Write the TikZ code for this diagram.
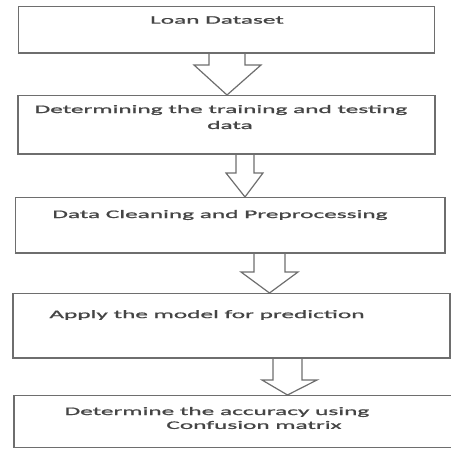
\documentclass[tikz,border=0pt]{standalone}
\usepackage{fontspec}
\newfontfamily\lf[FakeStretch=2.2,FakeBold=1.2]{Carlito}
\definecolor{edge}{HTML}{6E6E6E}
\definecolor{ink}{HTML}{454545}
\tikzset{
  box/.style={draw=edge, line width=1.5pt, fill=white, inner sep=0pt, anchor=north west},
  lbl/.style={text=ink, inner sep=0pt, font=\lf\fontsize{11.5}{15}\selectfont},
  blockarr/.style={draw=edge, line width=1.2pt, fill=white, line join=miter}
}
\newcommand\barrow[7]{% from, to, shaft left, shaft right, head left, head right, neck y
  \path[blockarr] (#1.south -| #3,0) -- (#3,#7) -- (#5,#7)
     -- (#2.north -| {(#3+#4)/2},0) -- (#6,#7) -- (#4,#7) -- (#1.south -| #4,0);
}
\begin{document}
\begin{tikzpicture}[x=1pt,y=-1pt]
\useasboundingbox (0,0) rectangle (451,449);
% boxes
\node[box, minimum width=416pt, minimum height=46pt] (b1) at (17.5,6) {};
\node[box, minimum width=417pt, minimum height=58pt] (b2) at (17,95) {};
\node[box, minimum width=429.5pt, minimum height=55pt] (b3) at (14.5,197) {};
\node[box, minimum width=437pt, minimum height=64pt] (b4) at (12,293) {};
\node[box, minimum width=440pt, minimum height=52pt] (b5) at (13,395) {};
% arrows
\barrow{b1}{b2}{209}{245}{194}{261}{65}
\barrow{b2}{b3}{236}{254}{226}{263}{173}
\barrow{b3}{b4}{254}{285}{241}{298}{272}
\barrow{b4}{b5}{273}{302}{262}{317}{380}
% redraw box edges over arrow tops
\foreach \b in {b1,b2,b3,b4} {\draw[draw=edge, line width=1.5pt] (\b.south west) -- (\b.south east);}
% labels
\node[lbl] (t1) at (217,20) {Loan Dataset};
\node[lbl] (t2a) at (221,110) {Determining the training and testing};
\node[lbl] (t2b) at (230,125) {data};
\node[lbl] (t3) at (220,215) {Data Cleaning and Preprocessing};
\node[lbl] (t4) at (207,315) {Apply the model for prediction};
\node[lbl] (t5a) at (217,412) {Determine the accuracy using};
\node[lbl] (t5b) at (254,425) {Confusion matrix};
\end{tikzpicture}
\end{document}
